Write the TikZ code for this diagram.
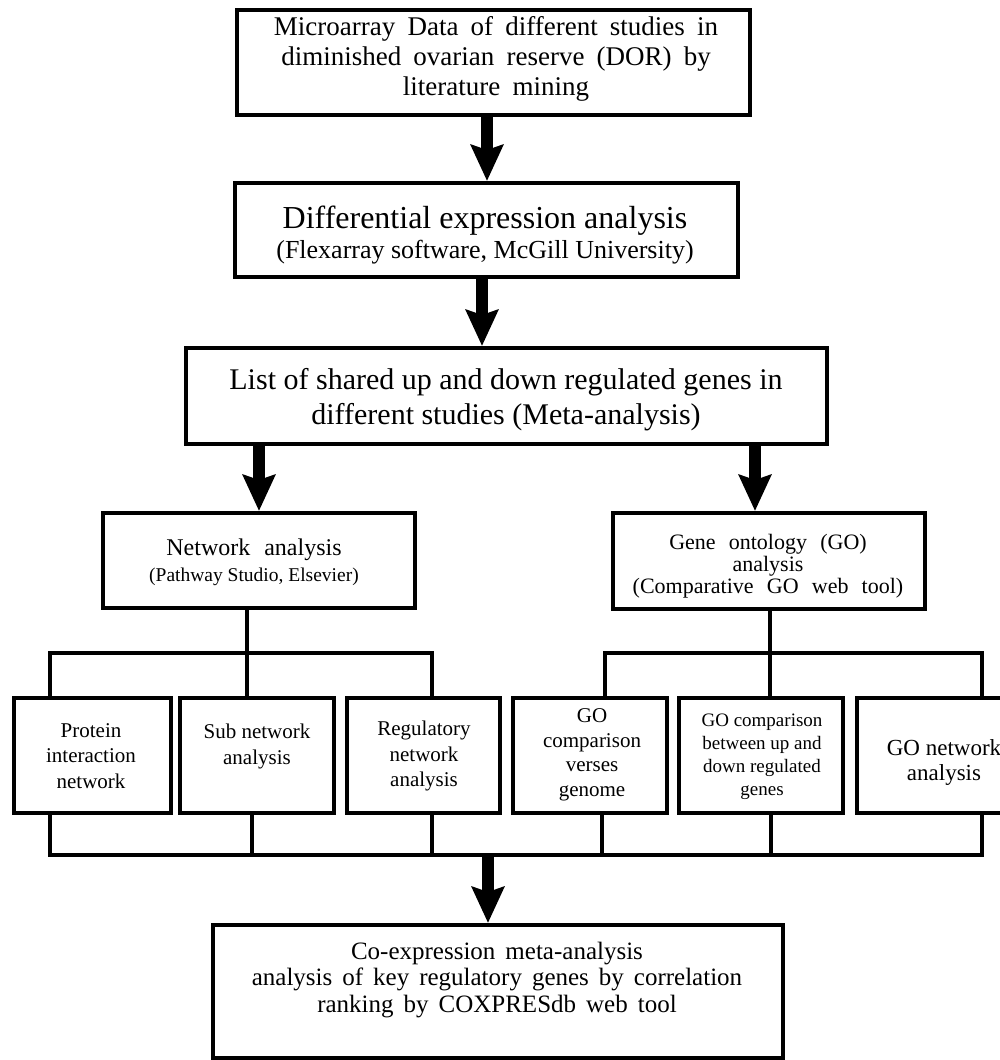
\documentclass[tikz,border=0pt]{standalone}
\usepackage{fontspec}
\setmainfont{Liberation Serif}
\usetikzlibrary{arrows.meta}

\tikzset{
  box/.style={draw, line width=4pt, inner sep=0pt},
  txt/.style={align=center, inner sep=0pt},
  link/.style={line width=4.5pt},
  bigarrow/.style={line width=12pt, -{Stealth[length=36pt, width=32pt, inset=5pt]}},
}
\newcommand{\fs}[2]{\fontsize{#1}{#2}\selectfont}
\newcommand{\widesp}[1]{\spaceskip=#1em\relax}

\begin{document}
\begin{tikzpicture}[x=1pt, y=-1pt]
\clip (0,0) rectangle (1000,1060);

% Input data
\node[box, minimum width=513pt, minimum height=105pt] (data) at (493.5, 62.5) {};
\node[txt, font=\fs{27}{30}\widesp{0.45}] (datatxt) at (496, 59) {Microarray Data of different studies in\\diminished ovarian reserve (DOR) by\\literature mining};

% Differential expression
\node[box, minimum width=503pt, minimum height=94pt] (diff) at (486.5, 230) {};
\node[txt, font=\fs{32}{30}] (difftxt) at (485, 235) {Differential expression analysis\\{\fs{26}{30}(Flexarray software, McGill University)}};

% Meta-analysis
\node[box, minimum width=641pt, minimum height=96pt] (list) at (506.5, 396) {};
\node[txt, font=\fs{30}{35}] (listtxt) at (506, 400) {List of shared up and down regulated genes in\\different studies (Meta-analysis)};

% Two branches
\node[box, minimum width=312pt, minimum height=95pt] (net) at (259, 560.5) {};
\node[txt, font=\fs{19.5}{26}] (nettxt) at (254, 562) {{\fs{24}{26}Network\hspace{8pt} analysis}\\(Pathway Studio, Elsevier)};

\node[box, minimum width=312pt, minimum height=96pt] (go) at (769, 561) {};
\node[txt, font=\fs{22}{22}\widesp{0.6}] (gotxt) at (768, 566) {Gene ontology (GO)\\analysis\\(Comparative GO web tool)};

% Network sub-analyses
\node[box, minimum width=157pt, minimum height=115pt] (prot) at (92.5, 755.5) {};
\node[txt, font=\fs{21}{25.5}] (prottxt) at (91, 756) {Protein\\interaction\\network};

\node[box, minimum width=154pt, minimum height=115pt] (sub) at (257, 755.5) {};
\node[txt, font=\fs{21}{25.5}] (subtxt) at (257, 746.5) {Sub network\\analysis};

\node[box, minimum width=153pt, minimum height=115pt] (reg) at (423.5, 755.5) {};
\node[txt, font=\fs{21}{25.5}] (regtxt) at (424, 756) {Regulatory\\network\\analysis};

% GO sub-analyses
\node[box, minimum width=154pt, minimum height=115pt] (gocomp) at (590, 755.5) {};
\node[txt, font=\fs{21}{24.5}] (gocomptxt) at (592, 755) {GO\\comparison\\verses\\genome};

\node[box, minimum width=164pt, minimum height=115pt] (gobetw) at (761, 755.5) {};
\node[txt, font=\fs{19}{23}] (gobetwtxt) at (762, 757) {GO comparison\\between up and\\down regulated\\genes};

\node[box, minimum width=160pt, minimum height=115pt] (gonet) at (937, 755.5) {};
\node[txt, font=\fs{23}{25}] (gonettxt) at (944, 762) {GO network\\analysis};

% Co-expression
\node[box, minimum width=570pt, minimum height=133pt] (coexp) at (498, 991.5) {};
\node[txt, font=\fs{25}{26.5}\widesp{0.4}] (coexptxt) at (497, 980) {Co-expression meta-analysis\\analysis of key regulatory genes by correlation\\ranking by COXPRESdb web tool};

% Main arrows
\draw[bigarrow] ([xshift=-6.5pt]data.south) -- ([xshift=-6.5pt]data.south |- diff.north);
\draw[bigarrow] ([xshift=-4.5pt]diff.south) -- ([xshift=-4.5pt]diff.south |- list.north);
\draw[bigarrow] (net.north |- list.south) -- (net.north);
\draw[bigarrow] ([xshift=-14pt]go.north |- list.south) -- ([xshift=-14pt]go.north);

% Brackets
\coordinate (ltop) at (247, 653);
\coordinate (rtop) at (770, 653);
\coordinate (bbar) at (488, 855);

\draw[link] ([xshift=-12pt]net.south) -- (ltop);
\draw[link] ([xshift=-42.5pt]prot.north) |- (ltop) -| ([xshift=8.5pt]reg.north);
\draw[link] (ltop) -- (ltop |- sub.north);

\draw[link] ([xshift=1pt]go.south) -- (rtop);
\draw[link] ([xshift=15pt]gocomp.north) |- (rtop) -| ([xshift=45pt]gonet.north);
\draw[link] (rtop) -- (rtop |- gobetw.north);

\draw[link] ([xshift=-42.5pt]prot.south) |- (bbar) -| ([xshift=45pt]gonet.south);
\foreach \n/\dx in {sub/-5, reg/8.5, gocomp/12, gobetw/10}
  \draw[link] ([xshift=\dx pt]\n.south) -- ([xshift=\dx pt]\n.south |- bbar);

\draw[bigarrow] (bbar) -- (bbar |- coexp.north);

\end{tikzpicture}
\end{document}
